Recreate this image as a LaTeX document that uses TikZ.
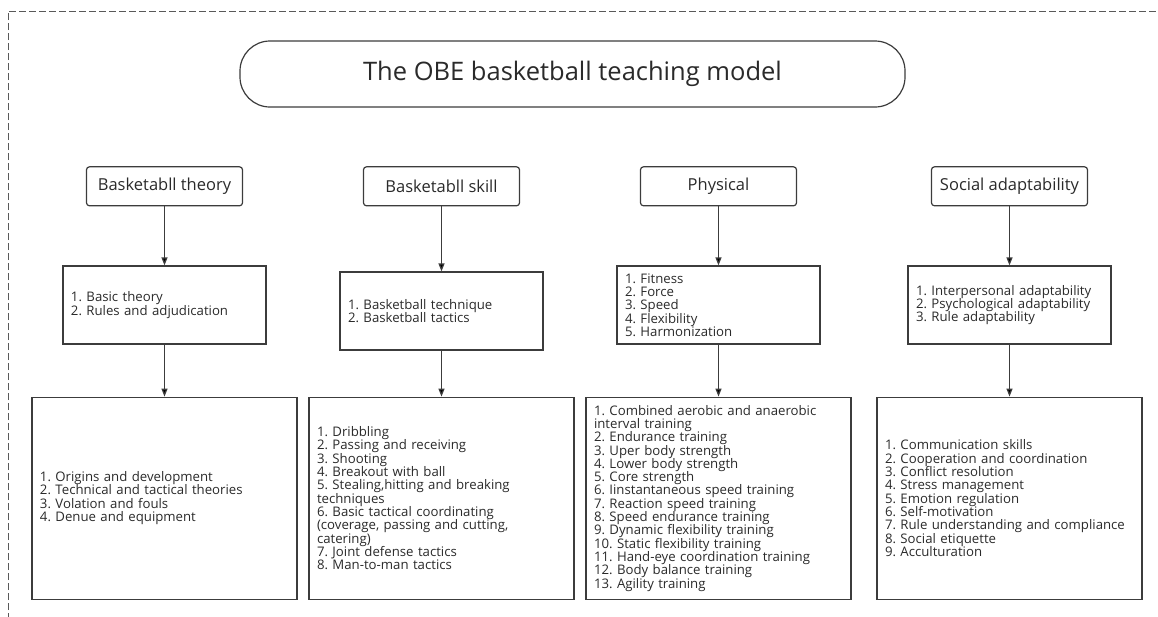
\documentclass[tikz,border=0pt]{standalone}
\usepackage{fontspec}
\setmainfont{Open Sans}
\usepackage{tikz}
\usetikzlibrary{matrix,arrows.meta}
\definecolor{linec}{HTML}{3C3C3C}
\definecolor{textc}{HTML}{2A2A2A}
\frenchspacing

\tikzset{
  modelbox/.style={draw=linec, line width=1.2pt, rounded corners=30pt, minimum width=665pt, minimum height=66pt, text=textc, font=\fontsize{25.5}{30}\selectfont},
  headbox/.style={draw=linec, line width=1.2pt, rounded corners=3pt, minimum width=156pt, minimum height=39pt, font=\fontsize{16.5}{19}\selectfont},
  aimbox/.style={draw=linec, line width=1.2pt, text width=187pt, inner xsep=8pt, minimum height=78pt, align=left, font=\fontsize{13.2}{13.3}\selectfont},
  itembox/.style={aimbox, text width=249pt, minimum height=202pt},
}

\begin{document}
\begin{tikzpicture}[x=1pt, y=-1pt, >={Triangle[length=8pt,width=6pt]}]
  \useasboundingbox (0,0) rectangle (1158,616);
  \begin{scope}
    \clip (0,0) rectangle (1158,616);
    \draw[draw=linec!85, line width=1pt, dash pattern=on 7pt off 3pt] (8,640) |- (1180,11);
  \end{scope}

  \node[modelbox] (obe) at (572.5,74) {The OBE basketball teaching model};

  \matrix (m) [matrix of nodes, anchor=north west, inner sep=0pt, row sep=59pt, column sep=10.8pt,
               nodes={anchor=center, text=textc}] at (31.2,166)
  {
|[headbox]| Basketabll theory & |[headbox]| Basketabll skill & |[headbox]| Physical &[14pt] |[headbox]| Social adaptability \\
|[aimbox]| {1. Basic theory\\2. Rules and adjudication} &
|[aimbox, yshift=-6pt]| {1. Basketball technique\\2. Basketball tactics} &
|[aimbox]| {1. Fitness\\2. Force\\3. Speed\\4. Flexibility\\5. Harmonization} &
|[aimbox]| {1. Interpersonal adaptability\\2. Psychological adaptability\\3. Rule adaptability} \\[-13pt]
|[itembox]| {1. Origins and development\\2. Technical and tactical theories\\3. Volation and fouls\\4. Denue and equipment} &
|[itembox]| {1. Dribbling\\2. Passing and receiving\\3. Shooting\\4. Breakout with ball\\5. Stealing,hitting and breaking\\techniques\\6. Basic tactical coordinating\\(coverage, passing and cutting,\\catering)\\7. Joint defense tactics\\8. Man-to-man tactics} &
|[itembox]| {1. Combined aerobic and anaerobic\\interval training\\2. Endurance training\\3. Uper body strength\\4. Lower body strength\\5. Core strength\\6. Iinstantaneous speed training\\7. Reaction speed training\\8. Speed endurance training\\9. Dynamic flexibility training\\10. Static flexibility training\\11. Hand-eye coordination training\\12. Body balance training\\13. Agility training} &
|[itembox]| {1. Communication skills\\2. Cooperation and coordination\\3. Conflict resolution\\4. Stress management\\5. Emotion regulation\\6. Self-motivation\\7. Rule understanding and compliance\\8. Social etiquette\\9. Acculturation} \\
};

  \path[->, draw=linec, line width=1.2pt]
  (m-1-1) edge (m-2-1)
  (m-1-2) edge (m-2-2)
  (m-1-3) edge (m-2-3)
  (m-1-4) edge (m-2-4)
  (m-2-1) edge (m-3-1)
  (m-2-2) edge (m-3-2)
  (m-2-3) edge (m-3-3)
  (m-2-4) edge (m-3-4)
  ;
\end{tikzpicture}
\end{document}
